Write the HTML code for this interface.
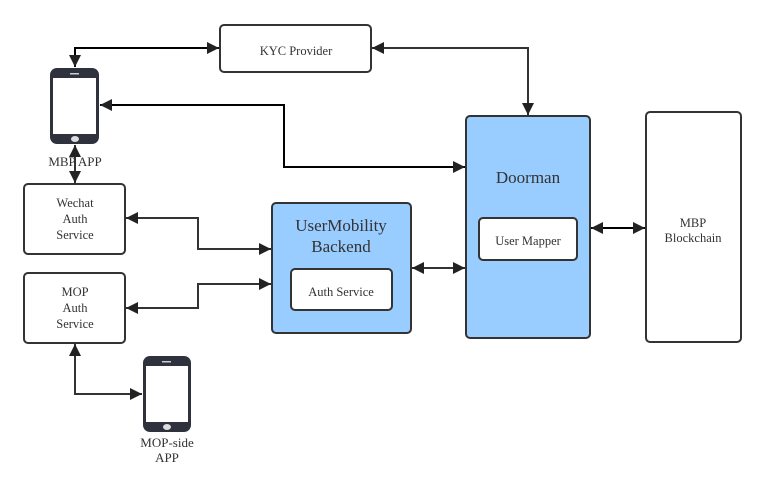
<!DOCTYPE html>
<html><head><meta charset="utf-8"><style>body{margin:0;background:#fff}svg{display:block}text{font-family:"Liberation Serif",serif;fill:#333}</style></head><body>
<svg width="766" height="478" viewBox="0 0 766 478" xmlns="http://www.w3.org/2000/svg">
<defs><marker id="a" viewBox="0 0 10 10" refX="10" refY="5" markerWidth="6" markerHeight="6" orient="auto-start-reverse"><path d="M0,0 L10,5 L0,10 z" fill="#222"/></marker></defs>
<g fill="none" stroke="#000" stroke-width="2">
<path d="M75,67 V48 H219" marker-start="url(#a)" marker-end="url(#a)"/>
<path d="M372,48 H528 V115" stroke="#333" marker-start="url(#a)" marker-end="url(#a)"/>
<path d="M465,167 H284 V105 H100" marker-start="url(#a)" marker-end="url(#a)"/>
<path d="M75,145 V183" stroke="#333" marker-start="url(#a)" marker-end="url(#a)"/>
<path d="M126,218 H198 V249 H271" stroke="#333" marker-start="url(#a)" marker-end="url(#a)"/>
<path d="M126,308 H198 V284 H271" stroke="#333" marker-start="url(#a)" marker-end="url(#a)"/>
<path d="M412,268 H465" stroke="#333" marker-start="url(#a)" marker-end="url(#a)"/>
<path d="M591,228 H645" marker-start="url(#a)" marker-end="url(#a)"/>
<path d="M75,344 V394 H142" stroke="#333" marker-start="url(#a)" marker-end="url(#a)"/>
</g>
<g stroke="#333" stroke-width="2">
<rect x="220" y="25" width="151" height="47" rx="4" fill="#fff"/>
<rect x="24" y="184" width="101" height="70" rx="4" fill="#fff"/>
<rect x="24" y="273" width="101" height="70" rx="4" fill="#fff"/>
<rect x="272" y="203" width="139" height="130" rx="4" fill="#99ccff"/>
<rect x="291" y="269" width="101" height="41" rx="4" fill="#fff"/>
<rect x="466" y="116" width="124" height="222" rx="4" fill="#99ccff"/>
<rect x="479" y="218" width="98" height="42" rx="4" fill="#fff"/>
<rect x="646" y="112" width="95" height="230" rx="4" fill="#fff"/>
</g>
<g>
<rect x="50" y="68" width="49" height="76" rx="7" fill="#2f323d"/>
<rect x="53" y="78" width="43" height="56" fill="#fff"/>
<rect x="70" y="73" width="9" height="1.5" fill="#ccc"/>
<ellipse cx="75" cy="139" rx="4" ry="3" fill="#ddd"/>
<rect x="143" y="356" width="48" height="76" rx="7" fill="#2f323d"/>
<rect x="146" y="366" width="42" height="56" fill="#fff"/>
<rect x="162" y="361" width="9" height="1.5" fill="#ccc"/>
<ellipse cx="167" cy="427" rx="4" ry="3" fill="#ddd"/>
</g>
<g font-size="12.5" text-anchor="middle">
<text x="296" y="55">KYC Provider</text>
<text x="75" y="166" font-size="13">MBP APP</text>
<text x="75" y="207">Wechat</text><text x="75" y="223">Auth</text><text x="75" y="239">Service</text>
<text x="75" y="296">MOP</text><text x="75" y="312">Auth</text><text x="75" y="328">Service</text>
<text x="341" y="296">Auth Service</text>
<text x="528" y="245">User Mapper</text>
<text x="693" y="227">MBP</text><text x="693" y="242">Blockchain</text>
<text x="167" y="447" font-size="13">MOP-side</text><text x="167" y="462" font-size="13">APP</text>
<text x="341" y="231" font-size="17">UserMobility</text>
<text x="341" y="252" font-size="17">Backend</text>
<text x="528" y="183" font-size="17">Doorman</text>
</g>
</svg>
</body></html>
